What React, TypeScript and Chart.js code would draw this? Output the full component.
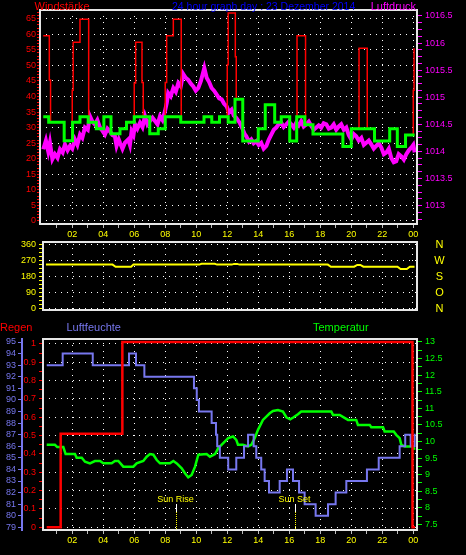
import React, { useEffect, useRef } from 'react';
import { Chart, registerables } from 'chart.js';

Chart.register(...registerables);

type Pt = [number, number];

const FONT = '"Liberation Sans", Arial, sans-serif';
const RED = '#ff0000';
const GREEN = '#00ff00';
const MAGENTA = '#ff00ff';
const YELLOW = '#ffff00';
const BLUE = '#0000ff';
const HUM = '#7777ee';
const GRID = '#ffffff';
const FRAME = '#e6e6e6';

// ---------- tick labels ----------
const hourTickValues = [2, 4, 6, 8, 10, 12, 14, 16, 18, 20, 22, 24];
const hourTickLabels = ['02', '04', '06', '08', '10', '12', '14', '16', '18', '20', '22', '00'];
const windTicks = [0, 5, 10, 15, 20, 25, 30, 35, 40, 45, 50, 55, 60, 65];
const pressureTicks = [1013, 1013.5, 1014, 1014.5, 1015, 1015.5, 1016, 1016.5];
const dirTicks = [0, 90, 180, 270, 360];
const dirLetters = ['N', 'O', 'S', 'W', 'N'];
const rainTicks = [0, 0.1, 0.2, 0.3, 0.4, 0.5, 0.6, 0.7, 0.8, 0.9, 1];
const humidityTicks = [79, 80, 81, 82, 83, 84, 85, 86, 87, 88, 89, 90, 91, 92, 93, 94, 95];
const temperatureTicks = [7.5, 8, 8.5, 9, 9.5, 10, 10.5, 11, 11.5, 12, 12.5, 13];

// ---------- series (hour, value) ----------
const windSpeed: Pt[] = [
  [0.13, 33.5], [0.48, 31.7], [1.48, 25.8], [2.02, 31.7], [2.5, 33.5], [3.03, 31.7], [3.55, 29.6],
  [4.04, 33.5], [4.5, 28], [5.08, 29.6], [5.5, 31.7], [6.0, 33.5], [7.0, 28], [7.55, 29.6], [8.0, 33.5],
  [9.0, 31.7], [10.5, 33.5], [11.0, 31.7], [11.5, 33.5], [12.06, 31.7], [12.5, 39.1], [13.0, 25.7],
  [14.0, 29.6], [14.45, 37.3], [15.06, 31.7], [15.48, 33.5], [16.03, 25.7], [16.48, 33.5], [17.0, 30.9],
  [17.53, 27.9], [19.46, 23.9], [20.0, 29.6], [21.5, 25.7], [22.48, 29.6], [22.97, 23.9], [23.5, 27.6],
  [24.09, 27.6],
];

const windGust: Pt[] = [
  [0.13, 59.5], [0.52, 45.3], [0.6, 31.7], [1.48, 25.8], [2.0, 42], [2.06, 57.4], [2.5, 64.8], [3.06, 31.7],
  [3.55, 29.6], [4.04, 33.5], [4.5, 28], [5.08, 29.6], [5.5, 31.7], [6.0, 44.3], [6.09, 57.4], [6.5, 44.5],
  [6.58, 33.5], [7.0, 28], [7.55, 29.6], [8.0, 44.5], [8.09, 59.5], [8.52, 64.8], [9.03, 31.7], [10.5, 33.5],
  [11.0, 31.7], [11.5, 33.5], [12.0, 50.2], [12.06, 66.8], [12.52, 52.8], [12.58, 39.1], [13.0, 25.7],
  [14.0, 29.6], [14.45, 37.3], [15.06, 31.7], [15.48, 33.5], [16.03, 25.7], [16.5, 59.5], [17.05, 30.9],
  [17.53, 27.9], [19.46, 23.9], [20.0, 29.6], [20.5, 55.5], [21.03, 29.6], [21.5, 25.7], [22.48, 29.6],
  [22.97, 23.9], [23.5, 27.6], [24.0, 42], [24.05, 55.5],
];

const pressure: Pt[] = [
  [0.13, 1014.04], [0.3, 1014.2], [0.45, 1014.0], [0.56, 1014.16], [0.72, 1013.86], [0.88, 1013.95],
  [1.05, 1013.88], [1.21, 1014.04], [1.38, 1013.98], [1.53, 1014.13], [1.7, 1014.02], [1.85, 1014.1],
  [2.0, 1014.05], [2.17, 1014.22], [2.33, 1014.12], [2.5, 1014.31], [2.65, 1014.25], [2.82, 1014.44],
  [3.0, 1014.4], [3.14, 1014.65], [3.3, 1014.55], [3.46, 1014.5], [3.62, 1014.58], [3.79, 1014.44],
  [3.95, 1014.38], [4.11, 1014.31], [4.27, 1014.42], [4.43, 1014.37], [4.6, 1014.3], [4.75, 1014.28],
  [4.86, 1014.1], [5.0, 1014.22], [5.08, 1014.16], [5.24, 1014.05], [5.4, 1014.16], [5.61, 1014.22],
  [5.72, 1014.12], [5.83, 1014.37], [5.95, 1014.3], [6.05, 1014.5], [6.2, 1014.42], [6.37, 1014.53],
  [6.53, 1014.45], [6.69, 1014.65], [6.85, 1014.5], [7.01, 1014.56], [7.18, 1014.62], [7.34, 1014.56],
  [7.5, 1014.5], [7.66, 1014.65], [7.82, 1014.58], [7.98, 1014.74], [8.1, 1014.9], [8.19, 1015.08],
  [8.35, 1015.02], [8.52, 1015.17], [8.68, 1015.1], [8.84, 1015.26], [9.0, 1015.2], [9.16, 1015.43],
  [9.32, 1015.36], [9.48, 1015.32], [9.65, 1015.25], [9.81, 1015.2], [9.97, 1015.12], [10.13, 1015.17],
  [10.3, 1015.3], [10.52, 1015.54], [10.67, 1015.36], [10.83, 1015.28], [10.99, 1015.17], [11.15, 1015.12],
  [11.32, 1015.05], [11.48, 1014.98], [11.64, 1014.96], [11.8, 1014.88], [11.96, 1014.83], [12.12, 1014.72],
  [12.28, 1014.77], [12.42, 1014.66], [12.58, 1014.62], [12.8, 1014.53], [13.01, 1014.4], [13.12, 1014.32],
  [13.23, 1014.28], [13.4, 1014.18], [13.55, 1014.22], [13.7, 1014.15], [13.87, 1014.19], [14.03, 1014.12],
  [14.19, 1014.16], [14.35, 1014.05], [14.52, 1014.1], [14.68, 1014.22], [14.84, 1014.31], [15.0, 1014.4],
  [15.16, 1014.44], [15.32, 1014.5], [15.48, 1014.53], [15.64, 1014.45], [15.81, 1014.5], [15.97, 1014.55],
  [16.13, 1014.5], [16.29, 1014.44], [16.45, 1014.53], [16.61, 1014.48], [16.77, 1014.56], [16.93, 1014.46],
  [17.1, 1014.5], [17.26, 1014.55], [17.42, 1014.47], [17.58, 1014.4], [17.74, 1014.44], [17.9, 1014.48],
  [18.06, 1014.44], [18.22, 1014.52], [18.39, 1014.5], [18.55, 1014.42], [18.71, 1014.44], [18.87, 1014.5],
  [19.03, 1014.4], [19.19, 1014.46], [19.35, 1014.5], [19.52, 1014.4], [19.68, 1014.44], [19.84, 1014.3],
  [20.0, 1014.22], [20.16, 1014.32], [20.32, 1014.28], [20.48, 1014.2], [20.65, 1014.25], [20.81, 1014.12],
  [20.97, 1014.16], [21.13, 1014.2], [21.29, 1014.13], [21.45, 1014.05], [21.61, 1014.1], [21.78, 1014.15],
  [21.94, 1014.07], [22.1, 1013.95], [22.26, 1013.98], [22.42, 1014.05], [22.58, 1013.88], [22.74, 1013.8],
  [22.9, 1013.82], [23.06, 1013.95], [23.23, 1013.91], [23.39, 1013.85], [23.55, 1013.95], [23.71, 1014.02],
  [23.87, 1014.07], [24.0, 1014.12], [24.09, 1013.98],
];

const windDirection: Pt[] = [
  [0.3, 248], [4.6, 248], [4.8, 236], [5.8, 236], [5.95, 248], [10.2, 248], [10.35, 253], [11.2, 253],
  [11.35, 248], [12.3, 248], [12.45, 252], [12.65, 252], [12.8, 248], [18.5, 248], [18.7, 236], [20.2, 236],
  [20.4, 246], [20.6, 246], [20.8, 236], [23.0, 236], [23.2, 223], [23.6, 223], [23.8, 236], [24.1, 236],
];

const rain: Pt[] = [[0.35, 0], [1.25, 0.51], [5.23, 1.01], [23.95, 0], [24.12, 0]];

const humidity: Pt[] = [
  [0.35, 93], [1.38, 94], [3.32, 93], [5.66, 94], [6.11, 93], [6.65, 92], [9.85, 91], [10.03, 90], [10.17, 89],
  [10.99, 88], [11.27, 87], [11.35, 86], [11.52, 85], [12.06, 84], [12.58, 85], [13.08, 86], [13.34, 87],
  [13.7, 86], [13.87, 85], [14.19, 84], [14.41, 83], [14.69, 82], [15.38, 83], [15.85, 84], [16.24, 83],
  [16.63, 82], [16.99, 81], [17.7, 80], [18.5, 81], [18.99, 82], [19.68, 83], [21.01, 84], [21.77, 85],
  [23.12, 86], [23.48, 87], [23.83, 86], [24.09, 87], [24.15, 87],
];

const temperature: Pt[] = [
  [0.35, 9.9], [0.88, 9.9], [1.03, 9.83], [1.42, 9.83], [1.57, 9.62], [2.17, 9.62], [2.28, 9.51], [2.61, 9.51],
  [2.82, 9.39], [3.14, 9.34], [3.46, 9.41], [3.79, 9.41], [4.0, 9.34], [4.54, 9.34], [4.75, 9.41], [4.97, 9.41],
  [5.29, 9.24], [5.94, 9.24], [6.15, 9.34], [6.58, 9.41], [6.8, 9.54], [7.01, 9.62], [7.23, 9.6], [7.45, 9.44],
  [7.66, 9.34], [8.3, 9.34], [8.52, 9.41], [8.74, 9.34], [9.06, 9.19], [9.27, 9.04], [9.48, 8.92], [9.7, 8.99],
  [9.92, 9.24], [10.13, 9.6], [10.67, 9.62], [10.88, 9.54], [11.21, 9.62], [11.42, 9.8], [11.74, 9.95],
  [12.06, 10.1], [12.37, 10.15], [12.58, 10.05], [12.69, 9.9], [13.01, 9.9], [13.34, 9.85], [13.55, 9.9],
  [13.77, 10.1], [13.98, 10.35], [14.3, 10.65], [14.52, 10.75], [14.74, 10.85], [14.95, 10.92], [15.27, 10.95],
  [15.59, 10.9], [15.81, 10.73], [16.06, 10.67], [16.28, 10.73], [16.56, 10.82], [16.77, 10.9], [18.71, 10.9],
  [18.82, 10.8], [19.25, 10.8], [19.79, 10.65], [20.32, 10.65], [20.43, 10.5], [21.19, 10.5], [21.29, 10.43],
  [22.05, 10.43], [22.15, 10.3], [22.74, 10.3], [22.9, 10.2], [23.12, 10.1], [23.23, 9.9], [23.45, 9.85],
  [23.98, 9.85], [24.09, 9.75],
];

const sunEvents = [
  { label: 'Sun Rise', hour: 8.69 },
  { label: 'Sun Set', hour: 16.39 },
];

// ---------- helpers ----------
const toXY = (a: Pt[]) => a.map(([x, y]) => ({ x, y }));
const near = (v: number, list: number[]) => list.some((t) => Math.abs(t - v) < 1e-6);
const fmt = (v: number) => String(Math.round(v * 100) / 100);
const tickVal = (c: any) => (c && c.tick ? Number(c.tick.value) : NaN);
const steps = (lo: number, hi: number, step: number) => {
  const n = Math.round((hi - lo) / step);
  const out: number[] = [];
  for (let i = 0; i <= n; i++) out.push(Math.round((lo + i * step) * 10000) / 10000);
  return out;
};
const hourMarks = steps(1, 24, 1);

function hourAxis(min: number, max: number, height: number, showLabels: boolean) {
  return {
    type: 'linear',
    position: 'bottom',
    min,
    max,
    afterBuildTicks: (s: any) => {
      s.ticks = hourMarks.map((value) => ({ value }));
    },
    afterFit: (s: any) => {
      s.height = height;
    },
    ticks: {
      autoSkip: false,
      maxRotation: 0,
      minRotation: 0,
      display: showLabels,
      color: YELLOW,
      font: { family: FONT, size: 9 },
      padding: 1,
      callback: (v: any) => {
        const i = hourTickValues.findIndex((t) => Math.abs(t - Number(v)) < 1e-6);
        return i >= 0 ? hourTickLabels[i] : '';
      },
    },
    grid: {
      color: (c: any) => (near(tickVal(c), hourTickValues) ? GRID : 'transparent'),
      tickColor: '#bdbdbd',
      drawTicks: showLabels,
      tickLength: 4,
      lineWidth: 1,
    },
    border: { display: false, dash: [1, 5] },
  };
}

function valueAxis(o: {
  position: 'left' | 'right';
  min: number;
  max: number;
  marks: number[];
  labels: number[];
  color: string;
  width: number;
  tickLen: number;
  padding: number;
  onChart: boolean;
  weight?: number;
  borderColor?: string;
}) {
  return {
    type: 'linear',
    position: o.position,
    min: o.min,
    max: o.max,
    weight: o.weight ?? 0,
    afterBuildTicks: (s: any) => {
      s.ticks = o.marks.map((value) => ({ value }));
    },
    afterFit: (s: any) => {
      s.width = o.width;
    },
    ticks: {
      autoSkip: false,
      color: o.color,
      font: { family: FONT, size: 9 },
      padding: o.padding,
      callback: (v: any) => (near(Number(v), o.labels) ? fmt(Number(v)) : ''),
    },
    grid: {
      drawOnChartArea: o.onChart,
      color: (c: any) => (o.onChart && near(tickVal(c), o.labels) ? GRID : 'transparent'),
      tickColor: o.color,
      tickLength: o.tickLen,
      lineWidth: 1,
    },
    border: o.borderColor
      ? { display: true, color: o.borderColor, width: 2 }
      : { display: false, dash: [1, 5] },
  };
}

const framePlugin = {
  id: 'frame',
  afterDatasetsDraw(chart: any) {
    const { ctx, chartArea: a } = chart;
    ctx.save();
    ctx.strokeStyle = FRAME;
    ctx.lineWidth = 2;
    ctx.strokeRect(a.left, a.top, a.right - a.left, a.bottom - a.top);
    ctx.restore();
  },
};

const titles1Plugin = {
  id: 'titles1',
  afterDraw(chart: any) {
    const ctx = chart.ctx;
    ctx.save();
    ctx.textBaseline = 'alphabetic';
    ctx.font = `11px ${FONT}`;
    ctx.textAlign = 'left';
    ctx.fillStyle = RED;
    ctx.fillText('Windstärke', 34.5, 9.5);
    ctx.font = `10.5px ${FONT}`;
    ctx.fillStyle = BLUE;
    ctx.fillText('24 hour graph day : 23 Dezember 2014', 172, 9.5);
    ctx.font = `11px ${FONT}`;
    ctx.fillStyle = MAGENTA;
    ctx.textAlign = 'right';
    ctx.fillText('Luftdruck', 416, 9.5);
    ctx.restore();
  },
};

const dirLettersPlugin = {
  id: 'dirLetters',
  afterDraw(chart: any) {
    const { ctx, scales } = chart;
    ctx.save();
    ctx.font = `11px ${FONT}`;
    ctx.fillStyle = YELLOW;
    ctx.textAlign = 'center';
    ctx.textBaseline = 'middle';
    dirLetters.forEach((L, i) => {
      ctx.fillText(L, 439.5, scales.yDir.getPixelForValue(dirTicks[i]));
    });
    ctx.restore();
  },
};

const titles3Plugin = {
  id: 'titles3',
  afterDraw(chart: any) {
    const ctx = chart.ctx;
    ctx.save();
    ctx.textBaseline = 'alphabetic';
    ctx.textAlign = 'left';
    ctx.font = `11px ${FONT}`;
    ctx.fillStyle = RED;
    ctx.fillText('Regen', 0, 15);
    ctx.fillStyle = HUM;
    ctx.fillText('Luftfeuchte', 66.5, 15);
    ctx.fillStyle = GREEN;
    ctx.fillText('Temperatur', 313, 15);
    ctx.restore();
  },
};

const sunPlugin = {
  id: 'sun',
  afterDatasetsDraw(chart: any) {
    const { ctx, chartArea: a, scales } = chart;
    ctx.save();
    sunEvents.forEach((ev) => {
      const x = Math.round(scales.x.getPixelForValue(ev.hour)) + 0.5;
      ctx.font = `9px ${FONT}`;
      ctx.fillStyle = YELLOW;
      ctx.textAlign = 'center';
      ctx.textBaseline = 'alphabetic';
      ctx.fillText(ev.label, x - 1, a.bottom - 28);
      ctx.lineWidth = 1;
      ctx.strokeStyle = '#ffffff';
      ctx.beginPath();
      ctx.moveTo(x, a.bottom - 26);
      ctx.lineTo(x, a.bottom - 18);
      ctx.stroke();
      ctx.strokeStyle = YELLOW;
      ctx.setLineDash([1, 1]);
      ctx.beginPath();
      ctx.moveTo(x, a.bottom - 18);
      ctx.lineTo(x, a.bottom);
      ctx.stroke();
      ctx.setLineDash([]);
    });
    ctx.restore();
  },
};

const baseOptions = {
  responsive: false,
  maintainAspectRatio: false,
  animation: false,
  events: [] as any[],
  plugins: { legend: { display: false }, tooltip: { enabled: false } },
  elements: { point: { radius: 0 }, line: { tension: 0 } },
};

function config1(): any {
  return {
    type: 'line',
    data: {
      datasets: [
        { data: toXY(windSpeed), borderColor: GREEN, borderWidth: 3, stepped: true, yAxisID: 'yWind', pointRadius: 0 },
        { data: toXY(windGust), borderColor: RED, borderWidth: 1.5, stepped: true, yAxisID: 'yWind', pointRadius: 0 },
        { data: toXY(pressure), borderColor: MAGENTA, borderWidth: 4, yAxisID: 'yPress', pointRadius: 0 },
      ],
    },
    options: {
      ...baseOptions,
      layout: { padding: { top: 10, left: 0, right: 0, bottom: 0 } },
      scales: {
        x: hourAxis(-0.08, 24.24, 16, true),
        yWind: valueAxis({ position: 'left', min: -1, max: 67.8, marks: steps(0, 67, 1), labels: windTicks, color: RED, width: 40, tickLen: 3, padding: 1, onChart: true }),
        yPress: valueAxis({ position: 'right', min: 1012.66, max: 1016.61, marks: steps(1012.75, 1016.5, 0.125), labels: pressureTicks, color: MAGENTA, width: 49, tickLen: 5, padding: 3, onChart: false }),
      },
    },
    plugins: [framePlugin, titles1Plugin],
  };
}

function config2(): any {
  return {
    type: 'line',
    data: {
      datasets: [{ data: toXY(windDirection), borderColor: YELLOW, borderWidth: 2, yAxisID: 'yDir', pointRadius: 0 }],
    },
    options: {
      ...baseOptions,
      layout: { padding: { top: 12, left: 0, right: 49, bottom: 0 } },
      scales: {
        x: hourAxis(0.11, 24.26, 10, false),
        yDir: valueAxis({ position: 'left', min: -7.3, max: 375, marks: steps(0, 360, 22.5), labels: dirTicks, color: YELLOW, width: 43, tickLen: 4, padding: 3, onChart: true }),
      },
    },
    plugins: [framePlugin, dirLettersPlugin],
  };
}

function config3(): any {
  return {
    type: 'line',
    data: {
      datasets: [
        { data: toXY(rain), borderColor: RED, borderWidth: 2.5, stepped: true, yAxisID: 'yRain', pointRadius: 0 },
        { data: toXY(humidity), borderColor: HUM, borderWidth: 2, stepped: true, yAxisID: 'yHum', pointRadius: 0 },
        { data: toXY(temperature), borderColor: GREEN, borderWidth: 2.5, yAxisID: 'yTemp', pointRadius: 0 },
      ],
    },
    options: {
      ...baseOptions,
      layout: { padding: { top: 23, left: 0, right: 0, bottom: 0 } },
      scales: {
        x: hourAxis(0.11, 24.24, 25, true),
        yHum: valueAxis({ position: 'left', min: 78.77, max: 95.26, marks: steps(79, 95, 1), labels: humidityTicks, color: HUM, width: 22, tickLen: 4, padding: 2, onChart: false, weight: 1, borderColor: HUM }),
        yRain: valueAxis({ position: 'left', min: -0.015, max: 1.027, marks: steps(0, 1, 0.05), labels: rainTicks, color: RED, width: 21, tickLen: 4, padding: 3, onChart: true, weight: 0 }),
        yTemp: valueAxis({ position: 'right', min: 7.33, max: 13.09, marks: steps(7.5, 13, 0.25), labels: temperatureTicks, color: GREEN, width: 49, tickLen: 5, padding: 3, onChart: false }),
      },
    },
    plugins: [framePlugin, titles3Plugin, sunPlugin],
  };
}

export default function App() {
  const c1 = useRef<HTMLCanvasElement>(null);
  const c2 = useRef<HTMLCanvasElement>(null);
  const c3 = useRef<HTMLCanvasElement>(null);

  useEffect(() => {
    const charts = [
      new Chart(c1.current as HTMLCanvasElement, config1()),
      new Chart(c2.current as HTMLCanvasElement, config2()),
      new Chart(c3.current as HTMLCanvasElement, config3()),
    ];
    return () => charts.forEach((c) => c.destroy());
  }, []);

  const cs = (top: number, h: number): React.CSSProperties => ({
    position: 'absolute',
    left: 0,
    top,
    width: 466,
    height: h,
    display: 'block',
  });

  return (
    <div style={{ position: 'fixed', left: 0, top: 0, width: 466, height: 555, background: '#000', overflow: 'hidden' }}>
      <canvas ref={c1} width={466} height={240} style={cs(0, 240)} />
      <canvas ref={c2} width={466} height={90} style={cs(230, 90)} />
      <canvas ref={c3} width={466} height={239} style={cs(316, 239)} />
    </div>
  );
}
